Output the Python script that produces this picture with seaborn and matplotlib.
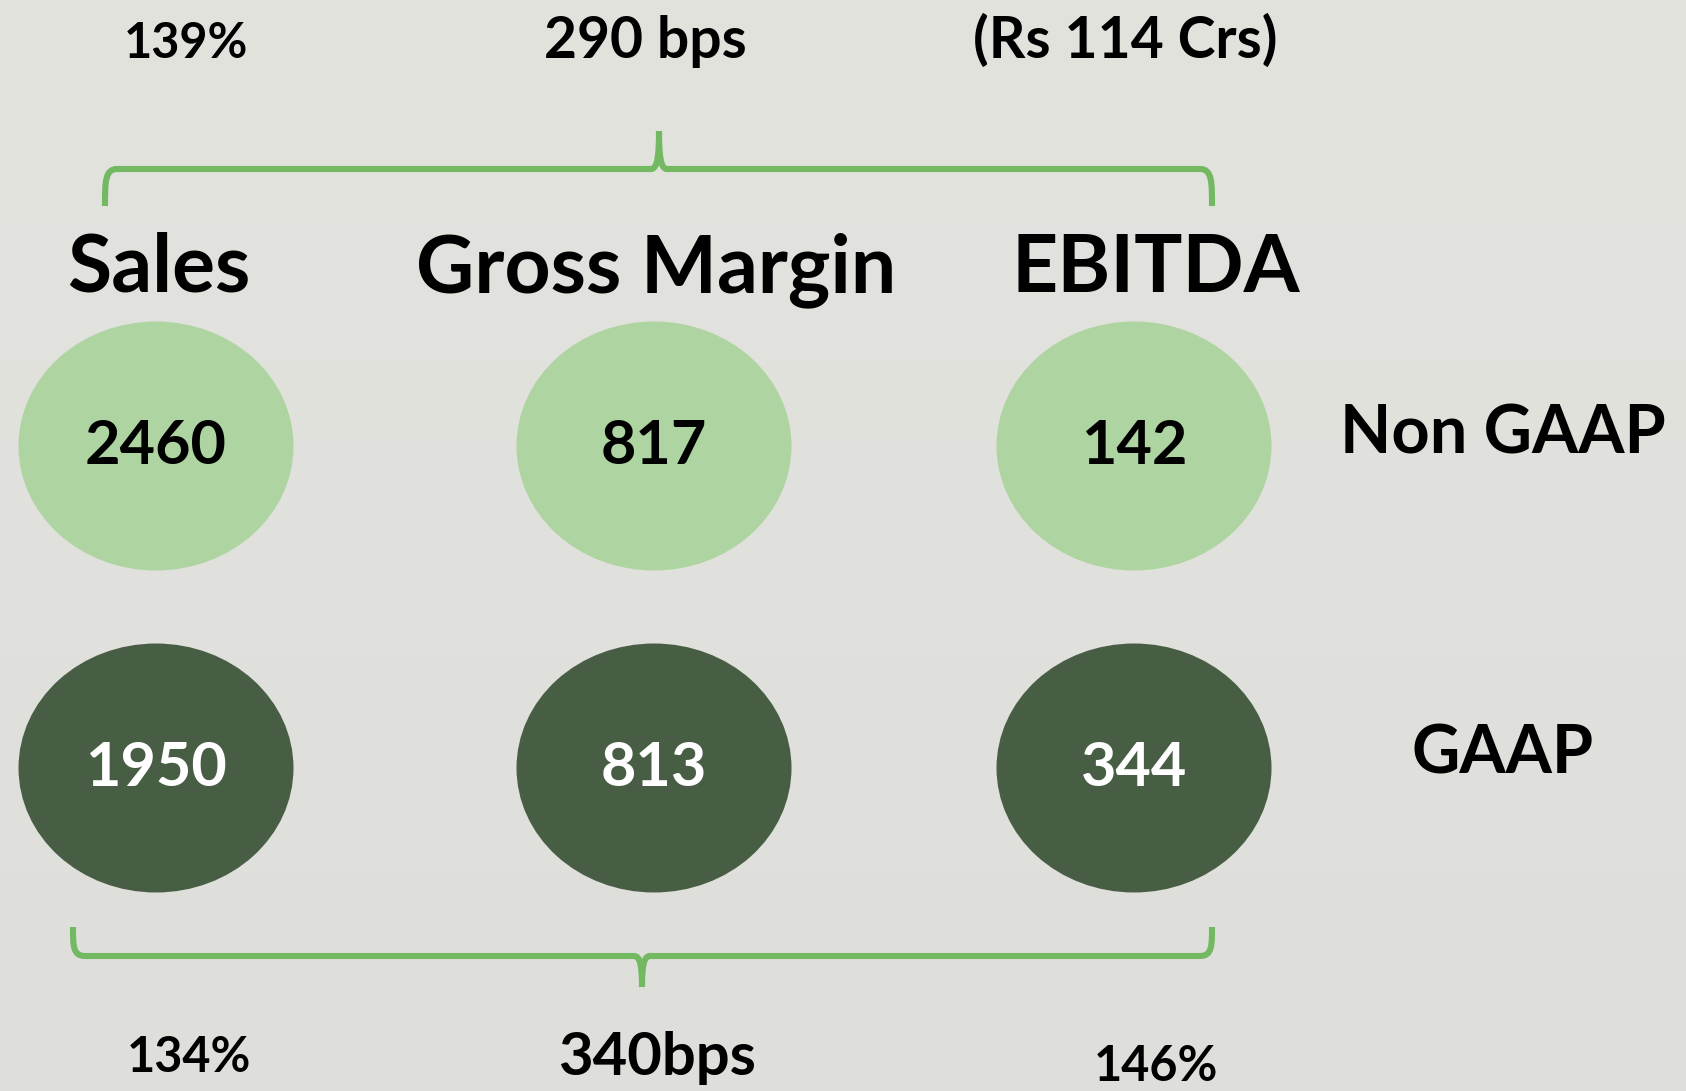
import numpy as np
import matplotlib.pyplot as plt
import seaborn as sns
from matplotlib.patches import Ellipse, PathPatch
from matplotlib.path import Path

# ---- data -------------------------------------------------------------
categories = ["Sales", "Gross Margin", "EBITDA"]
non_gaap = [2460, 817, 142]
gaap = [1950, 813, 344]
non_gaap_change = ["139%", "290 bps", "(Rs 114 Crs)"]
gaap_change = ["134%", "340bps", "146%"]
row_labels = ["Non GAAP", "GAAP"]

# ---- layout (pixel space of a 1686x1091 canvas) -----------------------
W, H = 1686, 1091
col_x = [156, 654, 1134]
row_y = [446, 768]
ell_w, ell_h = 275, 249
light, dark = "#AED4A1", "#485E44"
brace_col = "#72B961"

sns.set_theme(style="white")
plt.rcParams["font.family"] = ["Lato", "DejaVu Sans"]

fig = plt.figure(figsize=(W / 100, H / 100), dpi=100)
ax = fig.add_axes([0, 0, 1, 1])
ax.set_xlim(0, W)
ax.set_ylim(H, 0)
ax.axis("off")

# subtle vertical background gradient
grad = np.linspace(0, 1, 256).reshape(-1, 1)
bg = np.array([0xE3, 0xE3, 0xDE]) / 255 * (1 - grad)[..., None] + \
     np.array([0xDE, 0xDF, 0xDB]) / 255 * grad[..., None]
ax.imshow(bg, extent=[0, W, H, 0], aspect="auto", zorder=0)


def brace(x0, x1, xm, y_end, y_bar, y_tip):
    """Curly bracket: ends at y_end, bar at y_bar, centre tip at y_tip."""
    r = 0.35
    verts = [
        (x0, y_end),
        (x0, y_bar + (y_end - y_bar) * r), (x0, y_bar), (x0 + 12, y_bar),
        (xm - 8, y_bar),
        (xm - 2, y_bar), (xm, y_bar - (y_bar - y_tip) * 0.3), (xm, y_tip),
        (xm, y_bar - (y_bar - y_tip) * 0.3), (xm + 2, y_bar), (xm + 8, y_bar),
        (x1 - 12, y_bar),
        (x1, y_bar), (x1, y_bar + (y_end - y_bar) * r), (x1, y_end),
    ]
    codes = [Path.MOVETO,
             Path.CURVE4, Path.CURVE4, Path.CURVE4,
             Path.LINETO,
             Path.CURVE4, Path.CURVE4, Path.CURVE4,
             Path.CURVE4, Path.CURVE4, Path.CURVE4,
             Path.LINETO,
             Path.CURVE4, Path.CURVE4, Path.CURVE4]
    ax.add_patch(PathPatch(Path(verts, codes), fill=False, lw=4.4,
                           edgecolor=brace_col, capstyle="butt", zorder=2))


brace(105, 1212, 659, 206, 169, 131)
brace(73, 1212, 642, 927, 956, 987)

# change figures above/below
top_x = [186, 645, 1125]
top_fs = [35, 41, 41]
bot_x = [189, 657, 1156]
bot_base = [1072, 1075, 1081]
bot_fs = [35, 43, 35]
for i, t in enumerate(non_gaap_change):
    ax.text(top_x[i], 58, t, ha="center", va="baseline",
            fontsize=top_fs[i], fontweight="bold", color="black")
for i, t in enumerate(gaap_change):
    ax.text(bot_x[i], bot_base[i], t, ha="center", va="baseline",
            fontsize=bot_fs[i], fontweight="bold", color="black")

# category headers
head_x = [159, 656, 1156]
for i, c in enumerate(categories):
    ax.text(head_x[i], 292, c, ha="center", va="baseline",
            fontsize=58, fontweight="bold", color="black")

# ellipses with values
for i in range(len(categories)):
    for r, (vals, fc, tc) in enumerate([(non_gaap, light, "black"),
                                        (gaap, dark, "white")]):
        ax.add_patch(Ellipse((col_x[i], row_y[r]), ell_w, ell_h,
                             facecolor=fc, edgecolor="none", zorder=3))
        ax.text(col_x[i], row_y[r], f"{vals[i]}", ha="center", va="center",
                fontsize=44, fontweight="bold", color=tc, zorder=4)

# row labels
for r, lab in enumerate(row_labels):
    ax.text(1503, [454, 774][r], lab, ha="center", va="baseline",
            fontsize=48, fontweight="bold", color="black")

fig.savefig("out.png", dpi=100)
